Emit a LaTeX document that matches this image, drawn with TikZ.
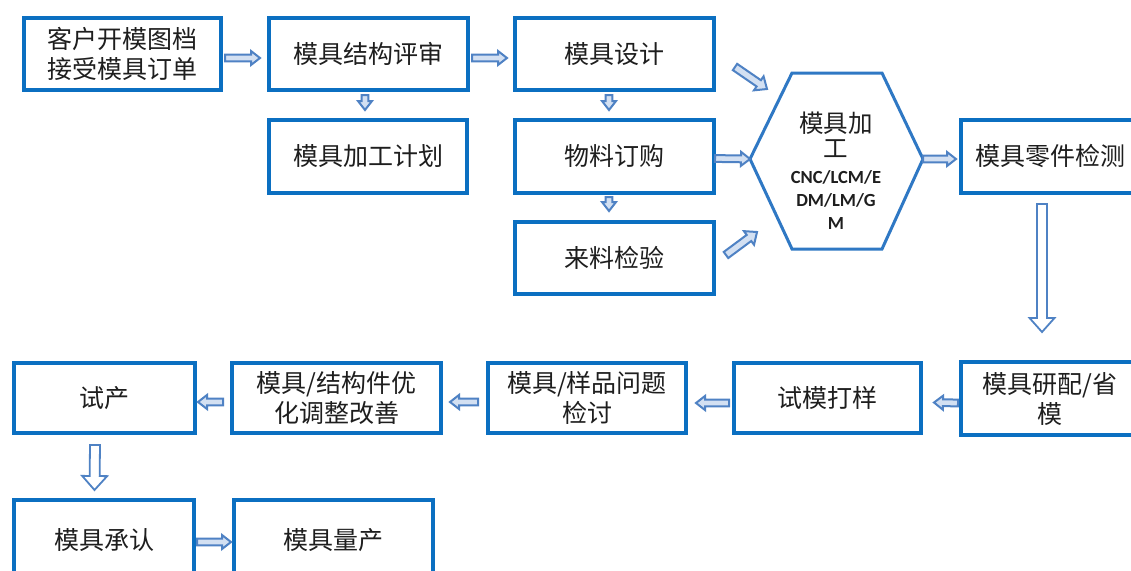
\documentclass[tikz,border=0pt]{standalone}
\usepackage{fontspec}
\setmainfont{Noto Sans CJK SC}
\newfontfamily\enfont{Carlito}
\usetikzlibrary{calc}
\definecolor{boxblue}{HTML}{0B6FC1}
\definecolor{hexblue}{HTML}{2F78C4}
\definecolor{arrblue}{HTML}{4F82C4}
\definecolor{arrfill}{HTML}{D3E0F2}
\definecolor{txt}{HTML}{1E1E1E}
\tikzset{
  flowbox/.style={draw=boxblue, line width=4pt, fill=white, inner sep=0pt, align=center,
    text=txt, font=\fontsize{25}{30}\selectfont},
  hexline/.style={draw=hexblue, line width=3pt, line join=miter, fill=white},
  cjktext/.style={text=txt, align=center, inner sep=0pt, font=\fontsize{24.5}{25}\selectfont},
  entext/.style={text=txt, align=center, inner sep=0pt, font=\enfont\bfseries\fontsize{18.5}{23}\selectfont},
  arrowline/.style={draw=arrblue, line width=2pt, fill=arrfill, line join=miter},
  arrS/.code={\def\abw{3.4}\def\ahw{7}\def\ahl{9}},
  arrM/.code={\def\abw{3.8}\def\ahw{8.5}\def\ahl{10}},
  arrL/.style={fill=white, line width=1.8pt, arrLdim},
  arrLdim/.code={\def\abw{5}\def\ahw{12.5}\def\ahl{14}},
}
\newcommand\harrow[3][arrS]{%
  \draw[arrowline,arrS,#1] let \p1=#2, \p2=#3,
    \n1={veclen(\x2-\x1,\y2-\y1)},
    \n2={(\x2-\x1)/\n1}, \n3={(\y2-\y1)/\n1} in
    ({\x1+\abw*\n3},{\y1-\abw*\n2})
    -- ({\x2-\ahl*\n2+\abw*\n3},{\y2-\ahl*\n3-\abw*\n2})
    -- ({\x2-\ahl*\n2+\ahw*\n3},{\y2-\ahl*\n3-\ahw*\n2})
    -- (\p2)
    -- ({\x2-\ahl*\n2-\ahw*\n3},{\y2-\ahl*\n3+\ahw*\n2})
    -- ({\x2-\ahl*\n2-\abw*\n3},{\y2-\ahl*\n3+\abw*\n2})
    -- ({\x1-\abw*\n3},{\y1+\abw*\n2}) -- cycle;}
\begin{document}
\begin{tikzpicture}[x=1pt,y=-1pt]
\useasboundingbox (0,0) rectangle (1131,570);
\fill[white] (0,0) rectangle (1131,570);
\clip (0,0) rectangle (1131,570);

% boxes
\node[flowbox, minimum width=197pt, minimum height=72pt] (A) at (122.5,54) {客户开模图档\\接受模具订单};
\node[flowbox, minimum width=199pt, minimum height=72pt] (B) at (368.5,54) {模具结构评审};
\node[flowbox, minimum width=198pt, minimum height=73pt] (C) at (368,156.5) {模具加工计划};
\node[flowbox, minimum width=199pt, minimum height=72pt] (D) at (614.5,54) {模具设计};
\node[flowbox, minimum width=199pt, minimum height=73pt] (E) at (614.5,156.5) {物料订购};
\node[flowbox, minimum width=199pt, minimum height=72pt] (F) at (614.5,258) {来料检验};
\node[flowbox, minimum width=178pt, minimum height=73pt] (G) at (1050,156.5) {模具零件检测};
\node[flowbox, minimum width=178pt, minimum height=73pt] (H) at (1050,398.5) {模具研配/省\\模};
\node[flowbox, minimum width=187pt, minimum height=70pt] (I) at (827.5,398) {试模打样};
\node[flowbox, minimum width=198pt, minimum height=70pt] (J) at (587,398) {模具/样品问题\\检讨};
\node[flowbox, minimum width=209pt, minimum height=70pt] (K) at (336.5,398) {模具/结构件优\\化调整改善};
\node[flowbox, minimum width=181pt, minimum height=70pt] (L) at (104.5,398) {试产};
\node[flowbox, minimum width=180pt, minimum height=80pt] (M) at (104,540) {模具承认};
\node[flowbox, minimum width=199pt, minimum height=80pt] (N) at (333.5,540) {模具量产};

% hexagon
\coordinate (hexTL) at (792,73);
\coordinate (hexTR) at (882,73);
\coordinate (hexR) at (923,159);
\coordinate (hexBR) at (882,249);
\coordinate (hexBL) at (792,249);
\coordinate (hexL) at (750,159);
\draw[hexline] (hexTL) -- (hexTR) -- (hexR) -- (hexBR) -- (hexBL) -- (hexL) -- cycle;
\node[cjktext] (hexcn) at (836,134.5) {模具加\\工};
\node[entext] (hexen) at (836,200) {CNC/LCM/E\\DM/LM/G\\M};

% arrows
\harrow{([xshift=2,yshift=-4]A.east)}{([xshift=-7,yshift=-4]B.west)}
\harrow{([xshift=2,yshift=-4]B.east)}{([xshift=-6,yshift=-4]D.west)}
\harrow{([xshift=-3.5,yshift=-3]B.south)}{([xshift=-3,yshift=8]C.north)}
\harrow{([xshift=-5.5,yshift=-3]D.south)}{([xshift=-5.5,yshift=8]E.north)}
\harrow{([xshift=-5.5,yshift=-2]E.south)}{([xshift=-5.5,yshift=9]F.north)}
\harrow[arrM]{([xshift=19,yshift=-13]D.east)}{([xshift=-25,yshift=-16]hexTL)}
\harrow{([xshift=-1,yshift=-2]E.east)}{(hexL)}
\harrow[arrM]{([xshift=10,yshift=3]F.east)}{([xshift=-35,yshift=17]hexBL)}
\harrow{(hexR)}{([xshift=-3,yshift=-2.5]G.west)}
\harrow[arrL]{([xshift=-8,yshift=-9]G.south)}{([xshift=-8,yshift=28]H.north)}
\harrow{([xshift=-1,yshift=-4.5]H.west)}{([xshift=11,yshift=-4.5]I.east)}
\harrow{([xshift=-3,yshift=-5]I.west)}{([xshift=8,yshift=-5]J.east)}
\harrow{([xshift=-8,yshift=-4]J.west)}{([xshift=7,yshift=-4]K.east)}
\harrow{([xshift=-7,yshift=-4]K.west)}{([xshift=1,yshift=-4]L.east)}
\harrow[arrL]{([xshift=-9.5,yshift=-10]L.south)}{([xshift=-9.5,yshift=8]M.north)}
\harrow{([xshift=1,yshift=-2]M.east)}{([xshift=-1,yshift=-2]N.west)}
\end{tikzpicture}
\end{document}
